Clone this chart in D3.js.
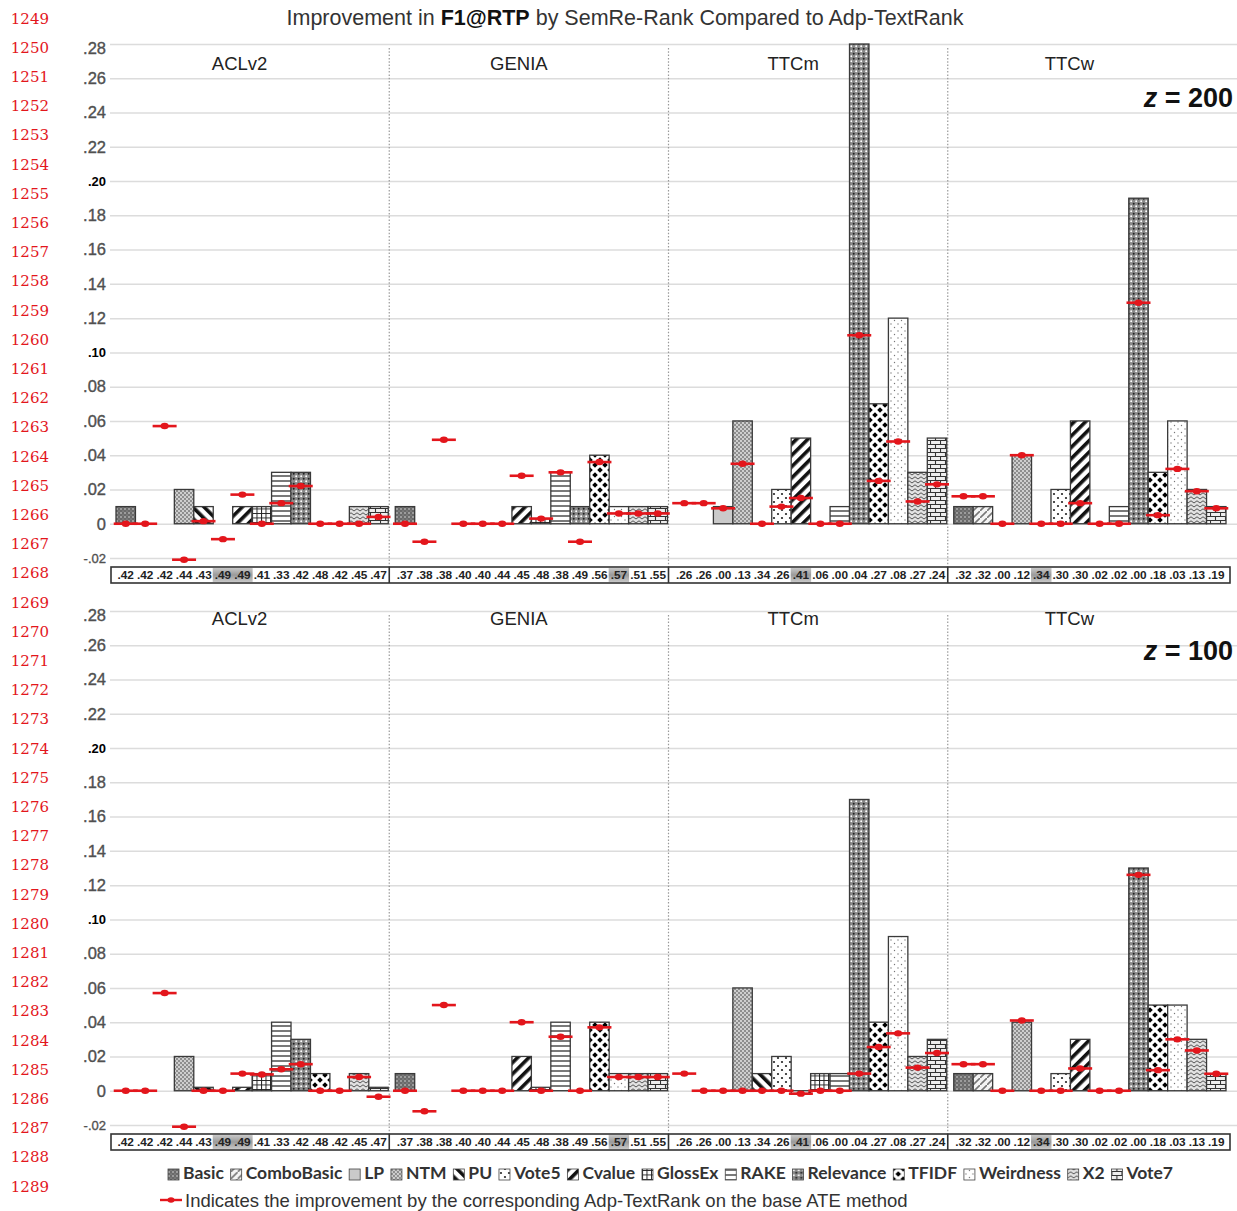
<!DOCTYPE html>
<html><head><meta charset="utf-8">
<script src="https://cdn.jsdelivr.net/npm/d3@7"></script>
<style>body{margin:0;background:#fff}svg{display:block}</style>
</head><body>
<svg id="c" width="1237" height="1211"></svg>
<script>
// ---------- DATA ----------
const datasets = ["ACLv2", "GENIA", "TTCm", "TTCw"];
const methods = ["Basic","ComboBasic","LP","NTM","PU","Vote5","Cvalue","GlossEx","RAKE","Relevance","TFIDF","Weirdness","X2","Vote7"];
const yTicks = [-0.02,0,0.02,0.04,0.06,0.08,0.10,0.12,0.14,0.16,0.18,0.20,0.22,0.24,0.26,0.28];
const zLabels = ["200", "100"];

// base F1@RTP of each ATE method (label row)
const baseACLv2 = [".42",".42",".42",".44",".43",".49",".49",".41",".33",".42",".48",".42",".45",".47"];
const baseGENIA = [".37",".38",".38",".40",".40",".44",".45",".48",".38",".49",".56",".57",".51",".55"];
const baseTTCm  = [".26",".26",".00",".13",".34",".26",".41",".06",".00",".04",".27",".08",".27",".24"];
const baseTTCw  = [".32",".32",".00",".12",".34",".30",".30",".02",".02",".00",".18",".03",".13",".19"];

// z = 200 : SemRe-Rank improvement (bars)
const semZ200ACLv2 = [0.01,0,0,0.02,0.01,0,0.01,0.01,0.03,0.03,0,0,0.01,0.01];
const semZ200GENIA = [0.01,0,0,0,0,0,0.01,0.003,0.03,0.01,0.04,0.01,0.01,0.01];
const semZ200TTCm  = [0,0,0.01,0.06,0,0.02,0.05,0,0.01,0.28,0.07,0.12,0.03,0.05];
const semZ200TTCw  = [0.01,0.01,0,0.04,0,0.02,0.06,0,0.01,0.19,0.03,0.06,0.02,0.01];
// z = 200 : Adp-TextRank improvement (red markers)
const adpZ200ACLv2 = [0,0,0.057,-0.021,0.0015,-0.009,0.017,0,0.012,0.022,0,0,0,0.004];
const adpZ200GENIA = [0,-0.0105,0.049,0,0,0,0.028,0.003,0.030,-0.0105,0.036,0.006,0.006,0.006];
const adpZ200TTCm  = [0.012,0.012,0.009,0.035,0,0.010,0.015,0,0,0.110,0.025,0.048,0.013,0.023];
const adpZ200TTCw  = [0.016,0.016,0,0.040,0,0,0.012,0,0,0.129,0.005,0.032,0.019,0.009];

// z = 100 : SemRe-Rank improvement (bars)
const semZ100ACLv2 = [0,0,0,0.02,0.002,0,0.002,0.01,0.04,0.03,0.01,0,0.01,0.002];
const semZ100GENIA = [0.01,0,0,0,0,0,0.02,0.002,0.04,0,0.04,0.01,0.01,0.01];
const semZ100TTCm  = [0,0,0,0.06,0.01,0.02,-0.002,0.01,0.01,0.17,0.04,0.09,0.02,0.03];
const semZ100TTCw  = [0.01,0.01,0,0.04,0,0.01,0.03,0,0,0.13,0.05,0.05,0.03,0.01];
// z = 100 : Adp-TextRank improvement (red markers)
const adpZ100ACLv2 = [0,0,0.057,-0.021,0,0,0.010,0.0095,0.0125,0.0155,0,0,0.008,-0.0035];
const adpZ100GENIA = [0,-0.012,0.050,0,0,0,0.040,0,0.0315,0,0.037,0.008,0.008,0.008];
const adpZ100TTCm  = [0.010,0,0,0,0,0,-0.0017,0,0,0.010,0.0255,0.0335,0.0135,0.022];
const adpZ100TTCw  = [0.0155,0.0155,0,0.041,0,0,0.013,0,0,0.126,0.012,0.030,0.0235,0.0099];

const baseLabels = [baseACLv2, baseGENIA, baseTTCm, baseTTCw];
const panels = [
  {z: zLabels[0], sem: [semZ200ACLv2, semZ200GENIA, semZ200TTCm, semZ200TTCw], adp: [adpZ200ACLv2, adpZ200GENIA, adpZ200TTCm, adpZ200TTCw]},
  {z: zLabels[1], sem: [semZ100ACLv2, semZ100GENIA, semZ100TTCm, semZ100TTCw], adp: [adpZ100ACLv2, adpZ100GENIA, adpZ100TTCm, adpZ100TTCw]}
];

// ---------- LAYOUT ----------
const W = 1237, plotL = 110, plotR = 1227;
const panelGeo = [
  {top: 44, bottom: 558, nameY: 63, zY: 107},
  {top: 611, bottom: 1125, nameY: 618, zY: 660}
];
const nameShift = [-10, -10, -15, -18];
const RED = "#e3161c";

const svg = d3.select("#c");
const defs = svg.append("defs");

// ---------- PATTERNS ----------
function pat(id, w, h, bg, fn, transform) {
  const p = defs.append("pattern").attr("id", id).attr("patternUnits", "userSpaceOnUse")
    .attr("width", w).attr("height", h);
  if (transform) p.attr("patternTransform", transform);
  p.append("rect").attr("width", w).attr("height", h).attr("fill", bg);
  fn(p);
}
const patFns = [
  () => pat("p0", 4, 4, "#6a6a6a", p => { p.append("circle").attr("cx",1).attr("cy",1).attr("r",0.8).attr("fill","#ddd"); p.append("circle").attr("cx",3).attr("cy",3).attr("r",0.6).attr("fill","#aaa"); }),
  () => pat("p1", 7, 7, "#f4f4f4", p => { p.append("path").attr("d","M-1,8 L8,-1").attr("stroke","#777").attr("stroke-width",1.6); }),
  () => pat("p2", 4, 4, "#cacaca", p => {}),
  () => pat("p3", 4, 4, "#8e8e8e", p => { p.append("circle").attr("cx",1).attr("cy",1).attr("r",0.9).attr("fill","#eee"); p.append("circle").attr("cx",3).attr("cy",3).attr("r",0.9).attr("fill","#eee"); }),
  () => pat("p4", 8, 8, "#fff", p => { p.append("rect").attr("width",3.6).attr("height",8).attr("fill","#111"); }, "rotate(-45)"),
  () => pat("p5", 8, 8, "#fff", p => { p.append("circle").attr("cx",2).attr("cy",2).attr("r",1.1).attr("fill","#222"); p.append("circle").attr("cx",6).attr("cy",6).attr("r",1.1).attr("fill","#222"); }),
  () => pat("p6", 8, 8, "#fff", p => { p.append("rect").attr("width",3.6).attr("height",8).attr("fill","#111"); }, "rotate(45)"),
  () => pat("p7", 4.5, 4.5, "#fff", p => { p.append("path").attr("d","M0.5,0 V4.5 M0,0.5 H4.5").attr("stroke","#222").attr("stroke-width",1); }),
  () => pat("p8", 5, 5, "#fff", p => { p.append("path").attr("d","M0,1 H5").attr("stroke","#222").attr("stroke-width",1.2); }),
  () => pat("p9", 5, 5, "#8a8a8a", p => { p.append("circle").attr("cx",1.2).attr("cy",1.2).attr("r",1).attr("fill","#fff"); p.append("circle").attr("cx",3.7).attr("cy",3.7).attr("r",1).attr("fill","#222"); }),
  () => pat("p10", 10, 10, "#fff", p => { const d = (cx,cy,s) => `M${cx},${cy-s} L${cx+s},${cy} L${cx},${cy+s} L${cx-s},${cy} Z`; p.append("path").attr("d", d(5,5,2.8)+d(0,0,2.8)+d(10,0,2.8)+d(0,10,2.8)+d(10,10,2.8)).attr("fill","#000"); }),
  () => pat("p11", 7, 7, "#fff", p => { p.append("circle").attr("cx",2).attr("cy",2).attr("r",0.7).attr("fill","#777"); p.append("circle").attr("cx",5.5).attr("cy",5.5).attr("r",0.7).attr("fill","#777"); }),
  () => pat("p12", 6, 4, "#e2e2e2", p => { p.append("path").attr("d","M0,3 L3,0.8 L6,3").attr("fill","none").attr("stroke","#555").attr("stroke-width",1); }),
  () => pat("p13", 10, 8, "#eee", p => { p.append("path").attr("d","M0,0.5 H10 M0,4.5 H10 M0.5,0.5 V4.5 M5.5,4.5 V8").attr("stroke","#333").attr("stroke-width",1.1); })
];
patFns.forEach(f => f());

const hg = defs.append("linearGradient").attr("id","hl").attr("x1",0).attr("x2",0).attr("y1",0).attr("y2",1);
hg.append("stop").attr("offset","0%").attr("stop-color","#c8c8c8");
hg.append("stop").attr("offset","50%").attr("stop-color","#9a9a9a");
hg.append("stop").attr("offset","100%").attr("stop-color","#c8c8c8");

// ---------- LINE NUMBERS ----------
const lineNums = d3.range(1249, 1290);
svg.append("g").selectAll("text").data(lineNums).join("text")
  .attr("x", 49).attr("y", (d, i) => 23.5 + i * 29.2)
  .attr("text-anchor", "end").attr("font-family", "'DejaVu Serif', serif")
  .attr("font-size", 15).attr("fill", RED).text(d => d);

// ---------- TITLE ----------
const title = svg.append("text").attr("x", 625).attr("y", 25).attr("text-anchor", "middle")
  .attr("font-family", "'Liberation Sans', Arial, sans-serif").attr("font-size", 21.5).attr("fill", "#333");
title.append("tspan").text("Improvement in ");
title.append("tspan").attr("font-weight", "bold").attr("fill", "#111").text("F1@RTP");
title.append("tspan").text(" by SemRe-Rank Compared to Adp-TextRank");

// ---------- SCALES ----------
const xGroup = d3.scaleBand().domain(datasets).range([plotL, plotR]);
const xMethod = d3.scaleBand().domain(methods).range([6, xGroup.bandwidth() - 1]);
const fmt = v => v === 0 ? "0" : (v < 0 ? "-" : "") + d3.format(".2f")(Math.abs(v)).replace(/^0/, "");

panels.forEach((P, pi) => {
  const G = panelGeo[pi];
  const y = d3.scaleLinear().domain([-0.02, 0.28]).range([G.bottom, G.top]);
  const g = svg.append("g");

  const ax = g.append("g").attr("transform", `translate(${plotL},0)`)
    .call(d3.axisLeft(y).tickValues(yTicks).tickFormat(fmt).tickSize(-(W - plotL)).tickPadding(4));
  ax.select(".domain").remove();
  ax.selectAll(".tick line").attr("stroke", "#dcdcdc").attr("stroke-width", 1.5);
  ax.selectAll(".tick text")
    .attr("font-family", "'Liberation Sans', Arial, sans-serif")
    .attr("font-size", d => (d === 0.2 || d === 0.1 || d < 0) ? 13 : 16.5)
    .attr("font-weight", d => (d === 0.2 || d === 0.1) ? "bold" : "normal")
    .attr("fill", d => (d === 0.2 || d === 0.1) ? "#000" : "#505050")
    .attr("stroke", d => (d === 0.2 || d === 0.1) ? "none" : "#505050").attr("stroke-width", 0.35)
    .attr("dy", d => d === 0.28 ? "0.55em" : "0.32em");

  const rowTop = G.bottom + 9, rowH = 16;

  datasets.slice(1).forEach(ds => {
    g.append("line").attr("x1", xGroup(ds)).attr("x2", xGroup(ds))
      .attr("y1", G.top + 4).attr("y2", rowTop)
      .attr("stroke", "#999").attr("stroke-width", 1.2).attr("stroke-dasharray", "1.5,1.8");
  });

  g.selectAll("text.ds").data(datasets).join("text").attr("class", "ds")
    .attr("x", (d, i) => xGroup(d) + xGroup.bandwidth() / 2 + nameShift[i])
    .attr("y", G.nameY + 7).attr("text-anchor", "middle")
    .attr("font-family", "'Liberation Sans', Arial, sans-serif").attr("font-size", 18.5).attr("fill", "#222")
    .text(d => d);

  const zt = g.append("text").attr("x", 1233).attr("y", G.zY).attr("text-anchor", "end")
    .attr("font-family", "'Liberation Sans', Arial, sans-serif").attr("font-size", 27).attr("font-weight", "bold").attr("fill", "#111");
  zt.append("tspan").attr("font-style", "italic").text("z");
  zt.append("tspan").text(" = " + P.z);

  datasets.forEach((ds, di) => {
    const gx = xGroup(ds);
    const items = methods.map((m, mi) => ({m, mi, sem: P.sem[di][mi], adp: P.adp[di][mi]}));
    g.append("g").selectAll("rect").data(items.filter(d => d.sem !== 0)).join("rect")
      .attr("x", d => gx + xMethod(d.m))
      .attr("width", xMethod.bandwidth())
      .attr("y", d => y(Math.max(0, d.sem)))
      .attr("height", d => Math.abs(y(d.sem) - y(0)))
      .attr("fill", d => `url(#p${d.mi})`)
      .attr("stroke", "#3a3a3a").attr("stroke-width", 1.3);
    const mk = g.append("g").selectAll("g").data(items).join("g")
      .attr("transform", d => `translate(${gx + xMethod(d.m) + xMethod.bandwidth() / 2},${y(d.adp)})`);
    mk.append("line").attr("x1", -12).attr("x2", 12).attr("stroke", RED).attr("stroke-width", 2.6);
    mk.append("ellipse").attr("rx", 4).attr("ry", 3.2).attr("fill", RED);

    const labs = baseLabels[di];
    const mx = d3.max(labs, s => +s);
    const cells = g.append("g").selectAll("g").data(labs.map((s, i) => ({s, m: methods[i]}))).join("g");
    cells.filter(d => +d.s === mx).append("rect")
      .attr("x", d => gx + xMethod(d.m) - 0.5).attr("width", xMethod.bandwidth() + 1)
      .attr("y", rowTop + 1).attr("height", rowH - 2).attr("fill", "url(#hl)");
    cells.append("text")
      .attr("x", d => gx + xMethod(d.m) + xMethod.bandwidth() / 2)
      .attr("y", rowTop + rowH / 2 + 4.3).attr("text-anchor", "middle")
      .attr("font-family", "'Liberation Sans', Arial, sans-serif").attr("font-size", 11.8).attr("font-weight", "bold")
      .attr("fill", "#222").text(d => d.s);
  });

  g.append("rect").attr("x", plotL + 1).attr("y", rowTop).attr("width", plotR + 3 - plotL - 1).attr("height", rowH)
    .attr("fill", "none").attr("stroke", "#333").attr("stroke-width", 1.6);
  datasets.slice(1).forEach(ds => {
    g.append("line").attr("x1", xGroup(ds)).attr("x2", xGroup(ds)).attr("y1", rowTop).attr("y2", rowTop + rowH)
      .attr("stroke", "#333").attr("stroke-width", 1.6);
  });
});

// ---------- LEGEND ----------
const leg = svg.append("g");
const legItems = leg.selectAll("g").data(methods).join("g");
legItems.append("rect").attr("width", 11).attr("height", 11).attr("y", -10)
  .attr("fill", (d, i) => `url(#p${i})`).attr("stroke", "#444").attr("stroke-width", 0.8);
const lt = legItems.append("text").attr("x", 15).attr("y", 0)
  .attr("font-family", "Lato, 'Open Sans', sans-serif").attr("font-weight", "bold").attr("font-size", 17.5).attr("fill", "#333")
  .text(d => d);
const widths = lt.nodes().map(n => n.getComputedTextLength() + 15);
const legStart = 168, legEnd = 1173;
const gap = (legEnd - legStart - d3.sum(widths)) / (methods.length - 1);
let cx = legStart;
legItems.attr("transform", (d, i) => { const t = `translate(${cx},1179)`; cx += widths[i] + gap; return t; });

const l2 = svg.append("g").attr("transform", "translate(171,1200)");
l2.append("line").attr("x1", -11).attr("x2", 11).attr("stroke", RED).attr("stroke-width", 2.4);
l2.append("ellipse").attr("rx", 3.5).attr("ry", 2.8).attr("fill", RED);
l2.append("text").attr("x", 14).attr("y", 6.5)
  .attr("font-family", "'Liberation Sans', Arial, sans-serif").attr("font-size", 18.5).attr("fill", "#333")
  .text("Indicates the improvement by the corresponding Adp-TextRank on the base ATE method");
</script>
</body></html>
